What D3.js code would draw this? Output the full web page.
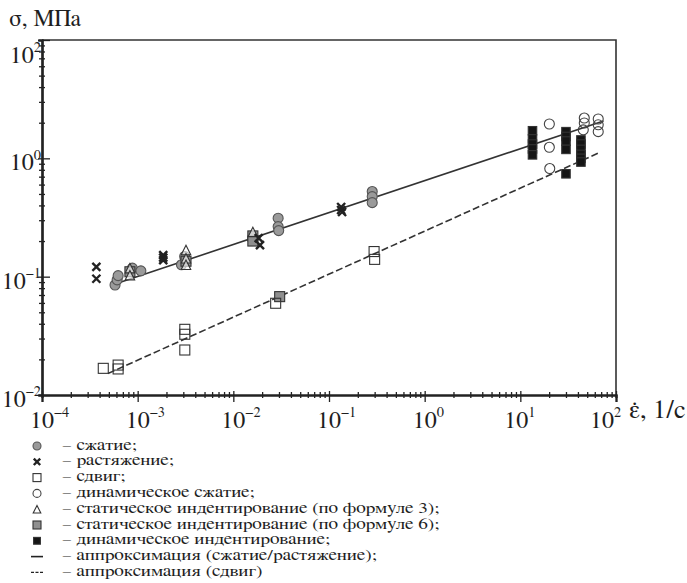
<!DOCTYPE html>
<html>
<head>
<meta charset="UTF-8">
<title>σ от скорости деформации</title>
<script src="https://d3js.org/d3.v7.min.js"></script>
<style>
  body { margin: 0; background: #fff; }
  text { fill: #1e1e1e; }
</style>
</head>
<body>
<svg id="chart" width="687" height="583"></svg>
<script>
// данные
const compression = [[5.8e-4,0.085],[6.1e-4,0.094],[6.25e-4,0.102],[8.8e-4,0.118],[1.08e-3,0.112],
  [2.87e-3,0.126],[3.1e-3,0.148],[0.0294,0.312],[0.0294,0.265],[0.0298,0.245],[0.283,0.524],[0.283,0.475],[0.283,0.422]];
const tension = [[3.7e-4,0.121],[3.7e-4,0.096],[1.85e-3,0.152],[1.85e-3,0.145],[1.85e-3,0.138],
  [0.0184,0.212],[0.019,0.185],[0.134,0.388],[0.134,0.366],[0.137,0.352]];
const shear = [[4.37e-4,0.0168],[6.25e-4,0.0179],[6.25e-4,0.0166],[3.11e-3,0.0359],[3.11e-3,0.0326],
  [3.11e-3,0.024],[0.0277,0.0596],[0.296,0.163],[0.30,0.140]];
const dynCompression = [[20.1,1.95],[20.1,1.24],[20.3,0.82],[46.6,2.19],[46.6,1.99],[45.5,1.74],
  [65.2,2.15],[65.2,1.92],[65.2,1.68]];
const staticInd3 = [[8.3e-4,0.118],[8.3e-4,0.103],[3.2e-3,0.168],[3.2e-3,0.143],[3.2e-3,0.126],[0.016,0.239]];
const staticInd6 = [[8.3e-4,0.110],[3.2e-3,0.135],[0.016,0.221],[0.016,0.200],[0.0305,0.0678]];
const dynInd = [[13.4,1.71],[13.4,1.46],[13.4,1.32],[13.4,1.20],[13.4,1.07],
  [30.0,1.68],[30.0,1.53],[30.0,1.40],[30.0,1.19],[30.0,0.74],
  [43.0,1.43],[43.0,1.32],[43.0,1.19],[43.0,1.08],[43.0,1.00],[43.0,0.93]];
const fitMain = [[5.4e-4,0.085],[74,2.07]];
const fitShear = [[4.9e-4,0.0152],[69,1.13]];

const xTickValues = [1e-4,1e-3,1e-2,1e-1,1e0,1e1,1e2];
const xTickExps = ["−4","−3","−2","−1","0","1","2"];
const yTickValues = [1e-2,1e-1,1e0,1e1];
const yTickExps = ["−2","−1","0","2"];

const legendLabels = [
  "– сжатие;",
  "– растяжение;",
  "– сдвиг;",
  "– динамическое сжатие;",
  "– статическое индентирование (по формуле 3);",
  "– статическое индентирование (по формуле 6);",
  "– динамическое индентирование;",
  "– аппроксимация (сжатие/растяжение);",
  "– аппроксимация (сдвиг)"
];
const legendKinds = ["grayCircle","cross","openSquare","openCircle","triangle","graySquare","blackSquare","solid","dashed"];

// размеры
const plotL = 42, plotR = 616, plotT = 40, plotB = 395;
const svg = d3.select("#chart");
const x = d3.scaleLog().domain([1e-4, 1e2]).range([plotL, plotR]);
const y = d3.scaleLog().domain([1e-2, 1e1]).range([plotB, plotT]);

// выбираем доступный шрифт с засечками (Times-подобный, если есть)
function textWidth(fam, str, size) {
  const t = svg.append("text").attr("font-family", fam).attr("font-size", size).text(str);
  const w = t.node().getComputedTextLength();
  t.remove();
  return w;
}
const probe = "статическое 10 МПа";
const baseW = textWidth("zzNoSuchFont", probe, 20);
const serifFont = ["Liberation Serif", "Tinos", "Times New Roman", "Nimbus Roman", "FreeSerif", "Noto Serif", "DejaVu Serif"]
  .find(f => Math.abs(textWidth(`"${f}", zzNoSuchFont`, probe, 20) - baseW) > 0.5) || "serif";
const fam = `"${serifFont}", serif`;
// размер шрифта, при котором строка имеет заданную ширину
const fitSize = (str, w) => 20 * w / textWidth(fam, str, 20);

const tickSize = fitSize("10", 24);
const expSize = tickSize * 0.6;

// рамка
svg.append("path")
  .attr("d", `M${plotL},${plotT}H${plotR}V${plotB}`)
  .attr("fill", "none").attr("stroke", "#333").attr("stroke-width", 1.6);

// минорные деления
const minorX = [];
for (let e = -4; e < 2; e++) for (let k = 2; k <= 9; k++) minorX.push(k * Math.pow(10, e));
const minorY = [];
for (let e = -2; e < 1; e++) for (let k = 2; k <= 9; k++) minorY.push(k * Math.pow(10, e));

const gx = svg.append("g").attr("transform", `translate(0,${plotB})`);
gx.call(d3.axisBottom(x).tickValues(minorX).tickSize(3).tickFormat(""));
gx.call(g => g.selectAll(".tick line").attr("y1", -3));
const gxM = svg.append("g").attr("transform", `translate(0,${plotB})`);
gxM.call(d3.axisBottom(x).tickValues(xTickValues).tickSize(7).tickFormat(""));
gxM.call(g => g.selectAll(".tick line").attr("y1", -4));
[gx, gxM].forEach(g => {
  g.select(".domain").attr("stroke", "#222").attr("stroke-width", 2.2);
  g.selectAll(".tick line").attr("stroke", "#222").attr("stroke-width", 1.3);
});

const gy = svg.append("g").attr("transform", `translate(${plotL},0)`);
gy.call(d3.axisLeft(y).tickValues(minorY).tickSize(3).tickFormat(""));
gy.call(g => g.selectAll(".tick line").attr("x1", 3));
const gyM = svg.append("g").attr("transform", `translate(${plotL},0)`);
gyM.call(d3.axisLeft(y).tickValues(yTickValues).tickSize(4).tickFormat(""));
gyM.call(g => g.selectAll(".tick line").attr("x1", 8));
[gy, gyM].forEach(g => {
  g.select(".domain").attr("stroke", "#222").attr("stroke-width", 2.2);
  g.selectAll(".tick line").attr("stroke", "#222").attr("stroke-width", 1.3);
});

// подписи делений (последняя сдвинута влево, чтобы поместилась подпись оси)
xTickValues.forEach((v, i) => {
  const shift = i === xTickValues.length - 1 ? 14 : (i === xTickValues.length - 2 ? 4 : 0);
  const t = svg.append("text").attr("font-family", fam).attr("font-size", tickSize)
    .attr("x", x(v) - 12 - shift).attr("y", plotB + 33);
  t.append("tspan").text("10");
  t.append("tspan").attr("dy", -tickSize * 0.45).attr("font-size", expSize).text(xTickExps[i]);
});
yTickValues.forEach((v, i) => {
  const t = svg.append("text").attr("font-family", fam).attr("font-size", tickSize)
    .attr("text-anchor", "end")
    .attr("x", plotL - 1).attr("y", Math.max(y(v) + 12, 63));
  t.append("tspan").text("10");
  t.append("tspan").attr("dy", -tickSize * 0.45).attr("font-size", expSize).text(yTickExps[i]);
});

// подписи осей
const yTitle = "σ, МПа", xTitle = "ε\u0307, 1/с";
svg.append("text").attr("font-family", fam).attr("font-size", fitSize(yTitle, 72))
  .attr("x", 9).attr("y", 26).text(yTitle);
svg.append("text").attr("font-family", fam).attr("font-size", fitSize(xTitle, 56))
  .attr("x", 629).attr("y", 418).text(xTitle);

// аппроксимации
const line = d3.line().x(d => x(d[0])).y(d => y(d[1]));
svg.append("path").datum(fitMain).attr("d", line)
  .attr("fill", "none").attr("stroke", "#333").attr("stroke-width", 1.6);
svg.append("path").datum(fitShear).attr("d", line)
  .attr("fill", "none").attr("stroke", "#333").attr("stroke-width", 1.6)
  .attr("stroke-dasharray", "7,3");

// маркеры
function drawMarker(g, kind, cx, cy, s) {
  if (kind === "grayCircle" || kind === "openCircle") {
    g.append("circle").attr("cx", cx).attr("cy", cy).attr("r", s * 0.5)
      .attr("fill", kind === "grayCircle" ? "#9a9a9a" : "none")
      .attr("stroke", kind === "grayCircle" ? "#555" : "#444").attr("stroke-width", 1.1);
  } else if (kind === "openSquare" || kind === "graySquare" || kind === "blackSquare") {
    const w = kind === "blackSquare" ? s * 0.85 : s;
    g.append("rect").attr("x", cx - w / 2).attr("y", cy - w / 2).attr("width", w).attr("height", w)
      .attr("fill", kind === "openSquare" ? "#fff" : kind === "graySquare" ? "#8f8f8f" : "#151515")
      .attr("fill-opacity", kind === "openSquare" ? 0 : 1)
      .attr("stroke", "#333").attr("stroke-width", 1.1);
  } else if (kind === "triangle") {
    const h = s * 0.95;
    g.append("path").attr("d", `M${cx},${cy - h / 2}L${cx + h / 2},${cy + h / 2}L${cx - h / 2},${cy + h / 2}Z`)
      .attr("fill", "#fff").attr("fill-opacity", 0.6).attr("stroke", "#333").attr("stroke-width", 1.1);
  } else if (kind === "cross") {
    const h = s * 0.4;
    g.append("path").attr("d", `M${cx - h},${cy - h}L${cx + h},${cy + h}M${cx - h},${cy + h}L${cx + h},${cy - h}`)
      .attr("stroke", "#222").attr("stroke-width", 2.4);
  } else if (kind === "solid") {
    g.append("line").attr("x1", cx - 6).attr("x2", cx + 6).attr("y1", cy).attr("y2", cy)
      .attr("stroke", "#222").attr("stroke-width", 1.6);
  } else if (kind === "dashed") {
    g.append("line").attr("x1", cx - 6).attr("x2", cx + 6).attr("y1", cy).attr("y2", cy)
      .attr("stroke", "#222").attr("stroke-width", 1.4).attr("stroke-dasharray", "3,1.5");
  }
}

const series = [
  [compression, "grayCircle"], [staticInd6, "graySquare"], [staticInd3, "triangle"],
  [tension, "cross"], [shear, "openSquare"], [dynCompression, "openCircle"], [dynInd, "blackSquare"]
];
const gm = svg.append("g");
series.forEach(([data, kind]) => {
  data.forEach(d => drawMarker(gm, kind, x(d[0]), y(d[1]), 10));
});

// легенда: текст растянут по горизонтали, как в оригинале
const legFont = 16;
const legSx = 268 / textWidth(fam, legendLabels[6], legFont);
const legY0 = 445, legStep = 15.8;
const gl = svg.append("g");
legendLabels.forEach((txt, i) => {
  const cy = legY0 + i * legStep;
  drawMarker(gl, legendKinds[i], 37, cy + 1, 8);
  gl.append("text").attr("font-family", fam).attr("font-size", legFont)
    .attr("transform", `translate(62,${cy + 4.5}) scale(${legSx},1)`)
    .text(txt);
});
</script>
</body>
</html>
